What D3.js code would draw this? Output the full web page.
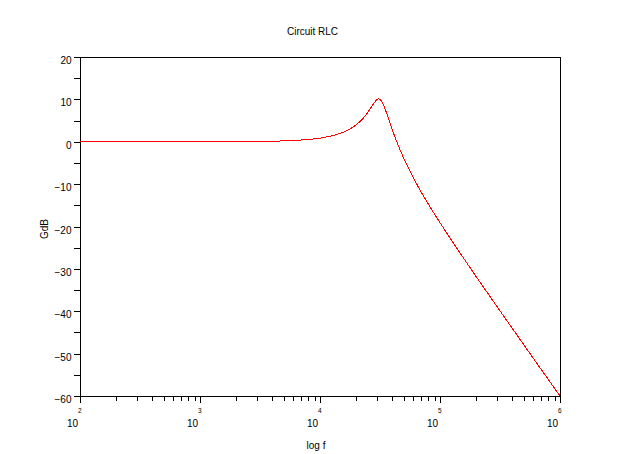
<!DOCTYPE html>
<html><head><meta charset="utf-8">
<script src="https://cdn.jsdelivr.net/npm/d3@7"></script>
<style>body{margin:0;background:#fff}svg{display:block}text{font-family:"Liberation Sans",Arial,Helvetica,sans-serif;fill:#000}</style>
</head><body>
<script>
const title = "Circuit RLC";
const xLabel = "log f";
const yLabel = "GdB";
// frequency (Hz) and gain (dB)
const freq = [100, 1000, 3162, 5623, 10000, 12589, 15849, 17783, 19953, 22387, 25119, 26607, 28184, 29854, 30900, 31623, 33497, 35481, 37584, 39811, 44668, 50119, 63096, 79433, 100000, 177828, 316228, 562341, 1000000];
const gain = [0.0, 0.01, 0.08, 0.26, 0.86, 1.40, 2.32, 3.01, 3.96, 5.24, 7.00, 8.07, 9.14, 9.96, 10.11, 10.0, 8.96, 7.14, 5.06, 3.0, -0.75, -4.04, -9.67, -14.6, -19.1, -29.7, -39.9, -50.0, -60.0];
const xMajor = [100, 1000, 10000, 100000, 1000000];
const xExp = ["2", "3", "4", "5", "6"];
const yTicks = d3.range(-60, 21, 5);

const W = 642, H = 454;
const m = {l: 80, r: 560, t: 57, b: 396};
const svg = d3.select("body").append("svg").attr("width", W).attr("height", H);
const x = d3.scaleLog().domain([100, 1e6]).range([m.l, m.r]);
const y = d3.scaleLinear().domain([-60, 20]).range([m.b, m.t]);

// frame
svg.append("rect").attr("x", m.l).attr("y", m.t).attr("width", m.r - m.l).attr("height", m.b - m.t)
  .attr("fill", "none").attr("stroke", "#000").attr("stroke-width", 1).attr("shape-rendering", "crispEdges");

// x minor ticks
const minor = [];
xMajor.slice(0, -1).forEach(d => { for (let k = 2; k <= 9; k++) minor.push(d * k); });
const gx = svg.append("g").attr("transform", `translate(0,${m.b})`);
gx.call(d3.axisBottom(x).tickValues(minor).tickSize(5).tickFormat(""));
const gx2 = svg.append("g").attr("transform", `translate(0,${m.b})`);
gx2.call(d3.axisBottom(x).tickValues(xMajor).tickSize(7).tickFormat(""));
[gx, gx2].forEach(g => { g.select(".domain").attr("stroke", "#000"); g.selectAll("line").attr("stroke", "#000").attr("shape-rendering", "crispEdges"); });

xMajor.forEach((d, i) => {
  svg.append("text").attr("x", x(d) - 2).attr("y", 427).attr("text-anchor", "end").attr("font-size", 10).text("10");
  svg.append("text").attr("x", x(d) - 2).attr("y", 413).attr("text-anchor", "start").attr("font-size", 6.5).text(xExp[i]);
});

// y axis
const gy = svg.append("g").attr("transform", `translate(${m.l},0)`);
gy.call(d3.axisLeft(y).tickValues(yTicks).tickSize(6).tickFormat(""));
gy.select(".domain").attr("stroke", "#000");
gy.selectAll("line").attr("stroke", "#000").attr("shape-rendering", "crispEdges");
yTicks.filter(d => d % 10 === 0).forEach(d => {
  svg.append("text").attr("x", 71.5).attr("y", y(d) + 7).attr("text-anchor", "end").attr("font-size", 10)
    .text(d3.format("d")(d));
});

// curve
const pts = freq.map((f, i) => [f, gain[i]]);
svg.append("path").datum(pts)
  .attr("d", d3.line().x(d => x(d[0])).y(d => y(d[1])).curve(d3.curveMonotoneX))
  .attr("fill", "none").attr("stroke", "#ff0000").attr("stroke-width", 1).attr("shape-rendering", "crispEdges");

// texts
svg.append("text").attr("x", 312.5).attr("y", 35).attr("text-anchor", "middle").attr("font-size", 10).text(title);
svg.append("text").attr("x", 316).attr("y", 449).attr("text-anchor", "middle").attr("font-size", 10).text(xLabel);
svg.append("text").attr("transform", "translate(48,229) rotate(-90)").attr("text-anchor", "middle").attr("font-size", 10).text(yLabel);
</script>
</body></html>
